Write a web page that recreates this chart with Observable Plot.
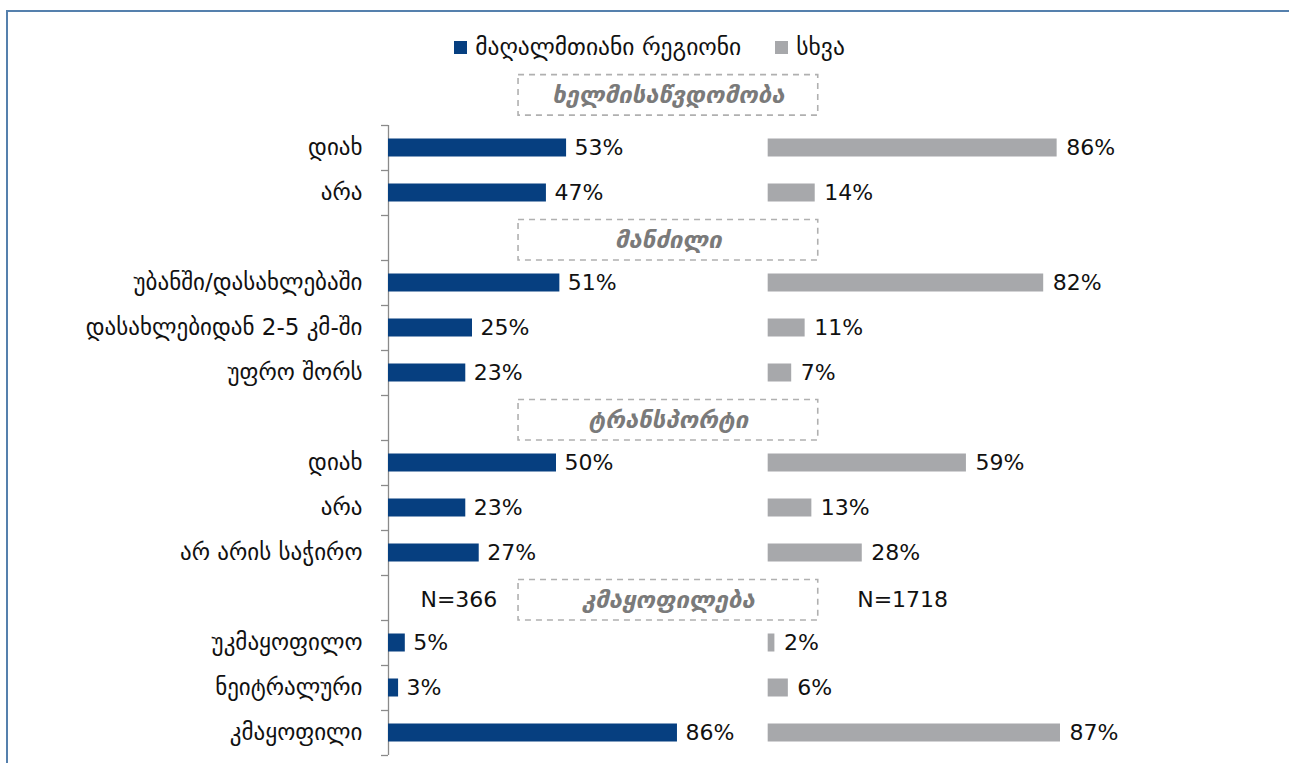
<!DOCTYPE html>
<html>
<head>
<meta charset="utf-8">
<script src="https://cdn.jsdelivr.net/npm/d3@7"></script>
<script src="https://cdn.jsdelivr.net/npm/@observablehq/plot@0.6"></script>
<style>
  html, body { margin: 0; padding: 0; background: #fff; overflow: hidden; }
  body { width: 1289px; height: 763px; position: relative; font-family: "DejaVu Sans", sans-serif; }
  #frame { position: absolute; left: 6px; top: 10px; width: 1400px; height: 900px;
           border-top: 2px solid #5580ad; border-left: 2px solid #5580ad; box-sizing: border-box; }
  #wrap { position: absolute; left: 0; top: 0; width: 1289px; }
  #legend { height: 62px; box-sizing: border-box; padding-top: 32px; padding-left: 10px; display: flex;
            justify-content: center; align-items: center; font-size: 23.5px; line-height: 26px; color: #111; }
  .item { display: flex; align-items: center; margin: 0 17px; }
  .sw { width: 13px; height: 13px; margin-right: 8px; display: inline-block; }
  svg { display: block; }
</style>
</head>
<body>
<div id="frame"></div>
<div id="wrap">
  <div id="legend"></div>
  <div id="chart"></div>
</div>
<script>
// ---- data ----
const series = ["მაღალმთიანი რეგიონი", "სხვა"];
const seriesColors = ["#063f80", "#a7a8ab"];
const groups = ["ხელმისაწვდომობა", "მანძილი", "ტრანსპორტი", "კმაყოფილება"];
const categories = [
  ["დიახ", "არა"],
  ["უბანში/დასახლებაში", "დასახლებიდან 2-5 კმ-ში", "უფრო შორს"],
  ["დიახ", "არა", "არ არის საჭირო"],
  ["უკმაყოფილო", "ნეიტრალური", "კმაყოფილი"]
];
const mountainValues = [[53, 47], [51, 25, 23], [50, 23, 27], [5, 3, 86]];
const otherValues = [[86, 14], [82, 11, 7], [59, 13, 28], [2, 6, 87]];
const sampleSizes = ["N=366", "N=1718"];

// ---- layout helpers ----
const panelOffset = 113;     // start of right panel in x units
const headerCenter = 83.3;   // header box center in x units
const headerHalf = 44.6;     // header box half-width in x units
const pxPerUnit = 3.36;

// build rows
const headers = [];
const rows = [];
let idx = 0;
groups.forEach((g, gi) => {
  headers.push({i: idx, y: gi === 0 ? idx - 0.17 : idx + 0.05, label: g});
  idx++;
  categories[gi].forEach((c, ci) => {
    rows.push({i: idx, label: c, m: mountainValues[gi][ci], o: otherValues[gi][ci]});
    idx++;
  });
});
const lastIndex = idx - 1;
const boundaries = d3.range(0.5, lastIndex + 1, 1);
const satisfactionHeader = headers[3];
const nLabels = [
  {x: 9.5, text: sampleSizes[0], y: satisfactionHeader.y},
  {x: panelOffset + 26.5, text: sampleSizes[1], y: satisfactionHeader.y}
];

// legend
const legend = document.getElementById("legend");
series.forEach((s, k) => {
  const it = document.createElement("div");
  it.className = "item";
  it.innerHTML = `<span class="sw" style="background:${seriesColors[k]}"></span><span>${s}</span>`;
  legend.appendChild(it);
});

const barHalf = 0.2;
const numFont = 22;
const chart = Plot.plot({
  width: 1289,
  height: 701,
  marginLeft: 388,
  marginRight: 1289 - 388 - 220 * pxPerUnit,
  marginTop: 18,
  marginBottom: 8,
  style: {fontFamily: "'DejaVu Sans', sans-serif", background: "transparent", overflow: "visible"},
  x: {domain: [0, 220], axis: null},
  y: {domain: [-0.5, lastIndex + 0.5], reverse: true, axis: null},
  marks: [
    // header boxes
    Plot.rect(headers, {
      x1: headerCenter - headerHalf, x2: headerCenter + headerHalf,
      y1: d => d.y - 0.45, y2: d => d.y + 0.45,
      fill: "none", stroke: "#b0b0b0", strokeWidth: 1.6, strokeDasharray: "6,5"
    }),
    Plot.text(headers, {
      x: headerCenter, y: "y", text: "label",
      fontSize: 24, fontWeight: "bold", fontStyle: "italic", fill: "#7a7a7a"
    }),
    Plot.text(nLabels, {x: "x", y: "y", text: "text", textAnchor: "start", fontSize: numFont, fill: "#111"}),
    // axis
    Plot.ruleX([0], {y1: 0.5, y2: lastIndex + 0.5, stroke: "#8a8a8a", strokeWidth: 1.3}),
    Plot.ruleY(boundaries, {y: d => d, x1: -7 / pxPerUnit, x2: 0, stroke: "#8a8a8a", strokeWidth: 1.3}),
    Plot.text(rows, {x: 0, y: "i", text: "label", textAnchor: "end", dx: -26, fontSize: 23, fill: "#111"}),
    // bars
    Plot.rect(rows, {x1: 0, x2: "m", y1: d => d.i - barHalf, y2: d => d.i + barHalf, fill: seriesColors[0]}),
    Plot.rect(rows, {x1: panelOffset, x2: d => panelOffset + d.o, y1: d => d.i - barHalf, y2: d => d.i + barHalf, fill: seriesColors[1]}),
    // value labels
    Plot.text(rows, {x: "m", y: "i", text: d => d.m + "%", textAnchor: "start", dx: 8, fontSize: numFont, fill: "#111"}),
    Plot.text(rows, {x: d => panelOffset + d.o, y: "i", text: d => d.o + "%", textAnchor: "start", dx: 9, fontSize: numFont, fill: "#111"})
  ]
});
document.getElementById("chart").appendChild(chart);
</script>
</body>
</html>
